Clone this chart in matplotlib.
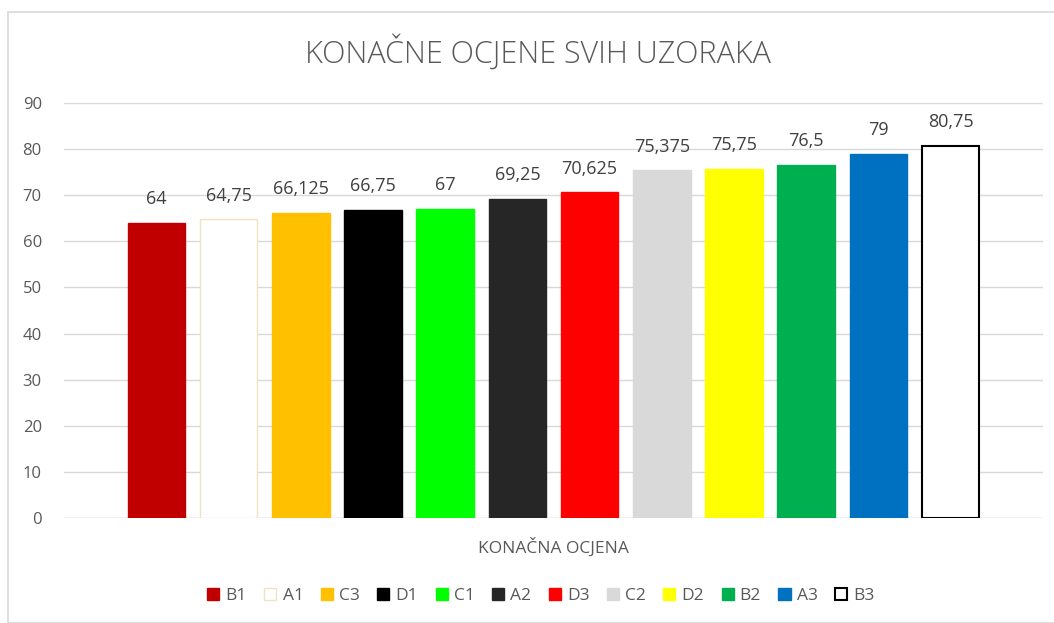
import matplotlib
matplotlib.use("Agg")
import matplotlib.pyplot as plt
from matplotlib.patches import Patch, Rectangle

labels = ["B1", "A1", "C3", "D1", "C1", "A2", "D3", "C2", "D2", "B2", "A3", "B3"]
values = [64, 64.75, 66.125, 66.75, 67, 69.25, 70.625, 75.375, 75.75, 76.5, 79, 80.75]
value_text = ["64", "64,75", "66,125", "66,75", "67", "69,25", "70,625", "75,375", "75,75", "76,5", "79", "80,75"]
fills = ["#C00000", "#FFFFFF", "#FFC000", "#000000", "#00FF00", "#262626",
         "#FF0000", "#D9D9D9", "#FFFF00", "#00B050", "#0070C0", "#FFFFFF"]
edges = ["#C00000", "#F2E2C4", "#FFC000", "#000000", "#00FF00", "#262626",
         "#FF0000", "#D9D9D9", "#FFFF00", "#00B050", "#0070C0", "#000000"]
yticks = [0, 10, 20, 30, 40, 50, 60, 70, 80, 90]

plt.rcParams['font.family'] = ['Open Sans', 'DejaVu Sans']

fig = plt.figure(figsize=(10.54, 6.23), dpi=100)
fig.patches.append(Rectangle((8/1054, 0), 1.2, 1 - 12/623, transform=fig.transFigure,
                             fill=False, edgecolor="#D9D9D9", linewidth=1.2, zorder=0))

ax = fig.add_axes([64/1054, 1 - 518/623, (1043 - 64)/1054, (518 - 103)/623])
x = list(range(len(labels)))
for i in x:
    lw = 1.5 if labels[i] == "B3" else 1.0
    ax.bar(i, values[i], width=0.80, color=fills[i], edgecolor=edges[i], linewidth=lw, zorder=3)
    ax.text(i, values[i] + 3.2, value_text[i], ha="center", va="bottom",
            fontsize=13, color="#404040")

ax.set_xlim(-1.28, 12.28)
ax.set_ylim(0, 90)
ax.set_yticks(yticks)
ax.set_xticks([])
ax.tick_params(axis="y", length=0, labelsize=12, labelcolor="#595959", pad=16)
ax.grid(axis="y", color="#D9D9D9", linewidth=1.0, zorder=0)
for s in ax.spines.values():
    s.set_visible(False)
ax.axhline(0, color="#D9D9D9", linewidth=1.0, zorder=2)

fig.text(538/1054, 1 - 53/623, "KONAČNE OCJENE SVIH UZORAKA", ha="center", va="center",
         fontsize=22, color="#595959", fontweight="light")
fig.text(553/1054, 1 - 547/623, "KONAČNA OCJENA", ha="center", va="center",
         fontsize=12.5, color="#595959")

handles = [Patch(facecolor=fills[i], edgecolor=edges[i], linewidth=1.5 if labels[i] == "B3" else 1.0)
           for i in x]
fig.legend(handles, labels, loc="center", bbox_to_anchor=(541/1054, 1 - 596/623), ncol=12,
           frameon=False, fontsize=12.5, handlelength=0.7, handleheight=0.7,
           handletextpad=0.35, columnspacing=1.0, labelcolor="#595959")

fig.savefig("out.png", dpi=100)
